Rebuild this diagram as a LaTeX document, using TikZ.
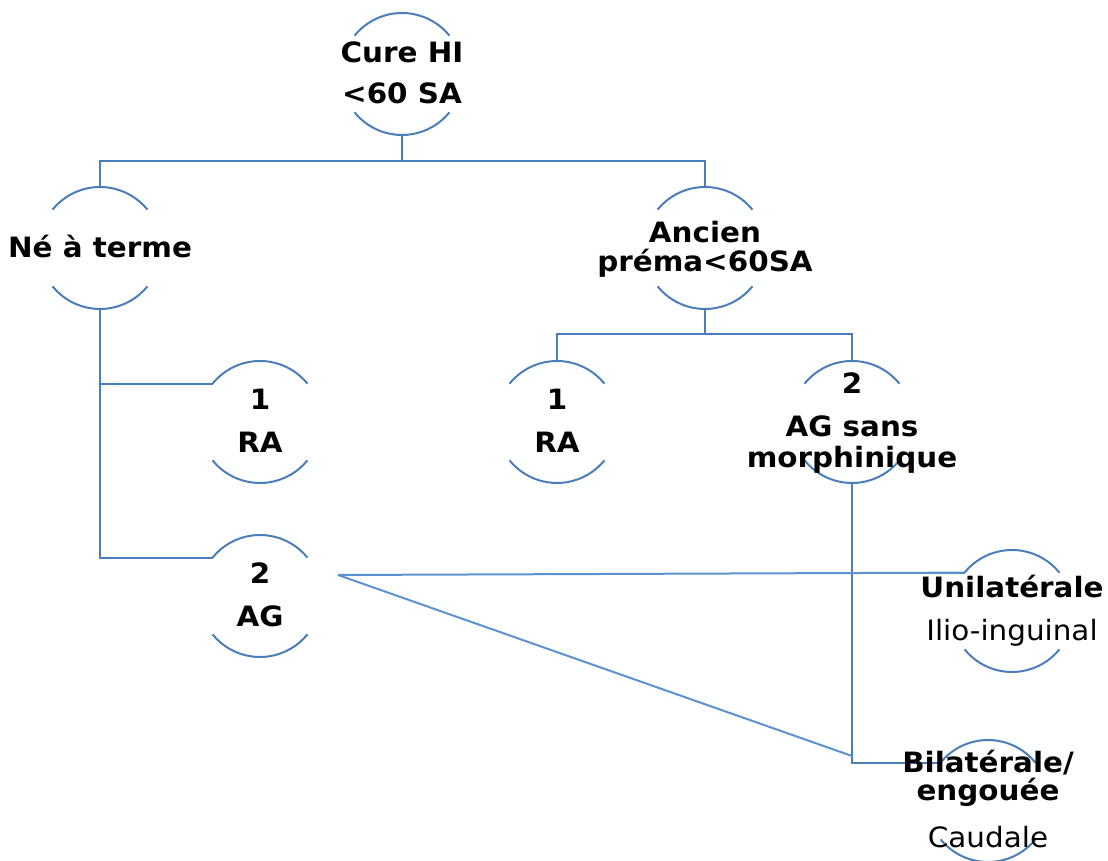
\documentclass[tikz,border=0pt]{standalone}
\usepackage{fontspec}
\setmainfont{DejaVu Sans}[FakeStretch=1.05]
\definecolor{lineblue}{RGB}{74,126,187}
\definecolor{lightblue}{RGB}{91,146,210}
\tikzset{
  ring/.style={circle, minimum size=122pt, inner sep=0pt, outer sep=0pt},
  link/.style={draw=lineblue, line width=2pt},
  slant/.style={draw=lightblue, line width=2pt},
  arcline/.style={draw=lineblue, line width=2pt},
  lbl/.style={anchor=base, inner sep=0pt, font=\fontsize{28}{34}\selectfont\bfseries},
  lblreg/.style={anchor=base, inner sep=0pt, font=\fontsize{28}{34}\selectfont},
}
\begin{document}
\begin{tikzpicture}[x=1pt, y=1pt]
\useasboundingbox (0,0) rectangle (1108,861);

% ring placeholders (centres of the arc pairs)
\node[ring] (c-cure) at (402,787) {};
\node[ring] (c-ne)   at (100,613) {};
\node[ring] (c-anc)  at (705,613) {};
\node[ring] (c-ra1)  at (260,439) {};
\node[ring] (c-ag1)  at (260,265) {};
\node[ring] (c-ra2)  at (557,439) {};
\node[ring] (c-ag2)  at (852,439) {};
\node[ring] (c-uni)  at (1012,250) {};
\node[ring] (c-bil)  at (988,60) {};

% upper and lower arcs of each ring
\foreach \n in {cure,ne,anc,ra1,ag1,ra2,ag2,uni,bil}{
  \draw[arcline] (c-\n.141) arc[start angle=141, end angle=39, radius=61pt];
  \draw[arcline] (c-\n.-141) arc[start angle=-141, end angle=-39, radius=61pt];
}

% junction points
\coordinate (j-top) at (402,700);
\coordinate (j-anc) at (705,527);
\coordinate (ag1-out) at (338,286);
\coordinate (j-bil) at (852,105);

% tree connectors
\draw[link] (c-cure.south) -- (j-top);
\draw[link] (j-top) -| (c-ne.north);
\draw[link] (j-top) -| (c-anc.north);
\draw[link] (c-ne.south) |- (c-ra1.141);
\draw[link] (c-ne.south) |- (c-ag1.141);
\draw[link] (c-anc.south) -- (j-anc);
\draw[link] (j-anc) -| (c-ra2.north);
\draw[link] (j-anc) -| (c-ag2.north);
\draw[link] (c-ag2.south) |- (c-uni.141);
\draw[link] (c-ag2.south) |- (c-bil.141);
\draw[slant] (ag1-out) -- (c-uni.141);
\draw[slant] (ag1-out) -- (j-bil);

% labels
\node[lbl] (t-cure-1) at (402,798) {Cure HI};
\node[lbl] (t-cure-2) at (402,757) {<60 SA};
\node[lbl] (t-ne) at (100,603) {Né à terme};
\node[lbl] (t-anc-1) at (705,618) {Ancien};
\node[lbl] (t-anc-2) at (705,589) {préma<60SA};
\node[lbl] (t-ra1-1) at (260,451) {1};
\node[lbl] (t-ra1-2) at (260,408) {RA};
\node[lbl] (t-ag1-1) at (260,277) {2};
\node[lbl] (t-ag1-2) at (260,234) {AG};
\node[lbl] (t-ra2-1) at (557,451) {1};
\node[lbl] (t-ra2-2) at (557,408) {RA};
\node[lbl] (t-ag2-1) at (852,467) {2};
\node[lbl] (t-ag2-2) at (852,424) {AG sans};
\node[lbl] (t-ag2-3) at (852,393) {morphinique};
\node[lbl] (t-uni-1) at (1012,263) {Unilatérale};
\node[lblreg] (t-uni-2) at (1012,220) {Ilio-inguinal};
\node[lbl] (t-bil-1) at (988,88) {Bilatérale/};
\node[lbl] (t-bil-2) at (988,60) {engouée};
\node[lblreg] (t-bil-3) at (988,13) {Caudale};
\end{tikzpicture}
\end{document}
